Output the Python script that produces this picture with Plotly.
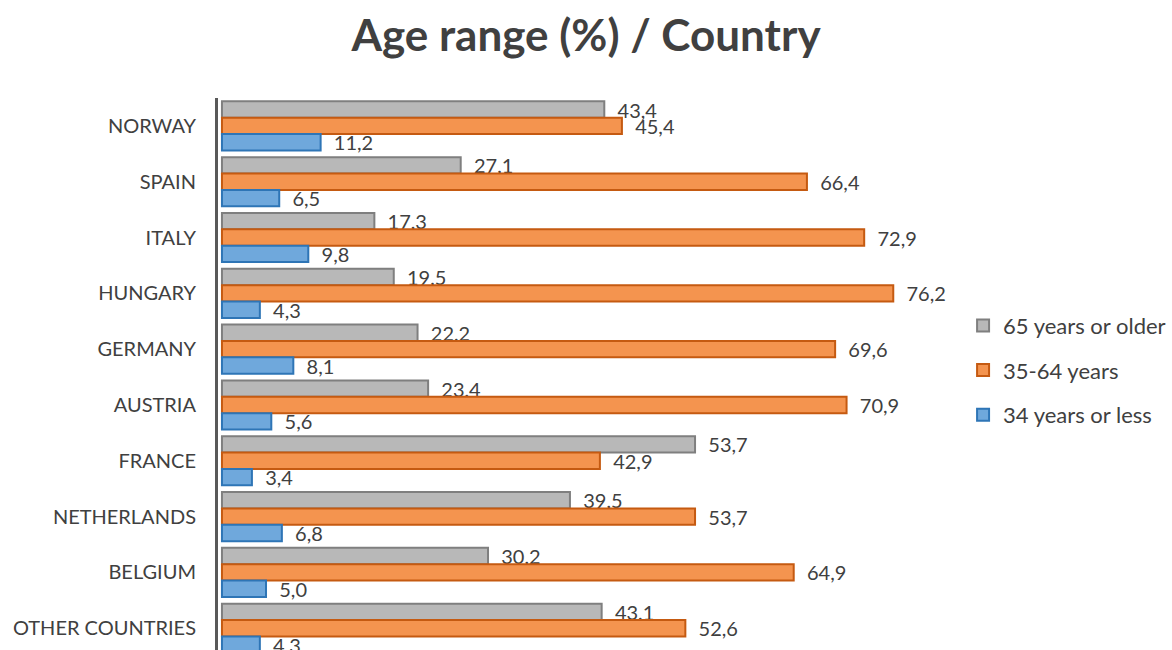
import plotly.graph_objs as go

countries = ["NORWAY", "SPAIN", "ITALY", "HUNGARY", "GERMANY", "AUSTRIA",
             "FRANCE", "NETHERLANDS", "BELGIUM", "OTHER COUNTRIES"]
older_65 = [43.4, 27.1, 17.3, 19.5, 22.2, 23.4, 53.7, 39.5, 30.2, 43.1]
age_35_64 = [45.4, 66.4, 72.9, 76.2, 69.6, 70.9, 42.9, 53.7, 64.9, 52.6]
under_34 = [11.2, 6.5, 9.8, 4.3, 8.1, 5.6, 3.4, 6.8, 5.0, 4.3]

series = [
    ("65 years or older", older_65, "#b8b8b8", "#7f7f7f"),
    ("35-64 years", age_35_64, "#f4944f", "#c55a11"),
    ("34 years or less", under_34, "#6fa8dc", "#2e75b6"),
]

FONT = "Lato, 'Open Sans', sans-serif"
TXT = "#404040"


def fmt(v):
    # comma decimal, pushed a little away from the bar end
    return "\u00a0\u00a0" + f"{v:.1f}".replace(".", ",")


fig = go.Figure()
for i, (name, vals, fill, edge) in enumerate(series):
    fig.add_trace(go.Bar(
        y=countries, x=vals, name=name, orientation="h",
        marker=dict(color=fill, line=dict(color=edge, width=2)),
        text=[fmt(v) for v in vals], textposition="outside",
        textfont=dict(size=20, color=TXT, family=FONT),
        cliponaxis=False, legendgroup=str(i),
    ))

fig.update_layout(
    width=1172, height=650,
    template="plotly_white",
    plot_bgcolor="white", paper_bgcolor="white",
    barmode="group", bargap=0.12,
    margin=dict(l=218, r=0, t=98, b=0, autoexpand=False),
    font=dict(family=FONT, color=TXT, size=20),
    title=dict(text="<b>Age range (%) / Country</b>", x=0.5, xanchor="center",
               y=1 - 36 / 650, yanchor="middle", yref="container",
               font=dict(size=44, color=TXT, family=FONT)),
    legend=dict(x=0.781, xanchor="left", y=0.507, yanchor="middle",
                font=dict(size=22, color=TXT), tracegroupgap=13,
                traceorder="grouped", bgcolor="rgba(0,0,0,0)"),
    uniformtext=dict(minsize=20, mode="show"),
)
fig.update_xaxes(range=[-0.45, 107.84], showticklabels=False, showgrid=False,
                 zeroline=False, showline=False, automargin=False)
fig.update_yaxes(range=[9.39, -0.5], showgrid=False, zeroline=False,
                 showline=True, linecolor="#595959", linewidth=3,
                 ticks="", ticklabelstandoff=15, automargin=False,
                 tickfont=dict(size=20, color=TXT, family=FONT))

fig.write_html("out.html", config={"displayModeBar": False},
               post_script="document.body.style.margin='0';")
